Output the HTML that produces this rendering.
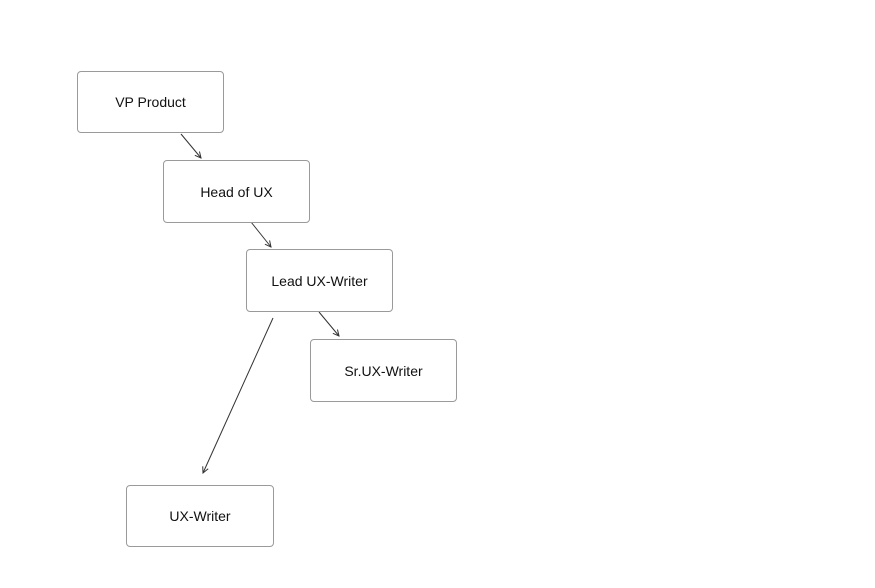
<!DOCTYPE html>
<html><head><style>
body{margin:0;width:875px;height:588px;background:#fff;position:relative;overflow:hidden;font-family:"Liberation Sans",sans-serif}
.b{position:absolute;width:145px;height:60px;border:1px solid #9a9a9a;border-radius:4px;box-sizing:border-box;display:flex;align-items:center;justify-content:center;font-size:14px;color:#111;background:#fff}
svg{position:absolute;left:0;top:0}
</style></head><body>
<svg width="875" height="588">
<defs><marker id="a" markerWidth="8" markerHeight="8" refX="7" refY="4" orient="auto" markerUnits="userSpaceOnUse"><path d="M1,1 L7,4 L1,7" fill="none" stroke="#333" stroke-width="1"/></marker></defs>
<g stroke="#333" stroke-width="1" marker-end="url(#a)">
<line x1="181" y1="134" x2="201" y2="158"/>
<line x1="251" y1="222" x2="271" y2="247"/>
<line x1="319" y1="312" x2="339" y2="336"/>
<line x1="273" y1="318" x2="203" y2="473"/>
</g></svg>
<div class="b" style="left:77px;top:71px;width:147px;height:62px">VP Product</div>
<div class="b" style="left:163px;top:160px;width:147px;height:63px">Head of UX</div>
<div class="b" style="left:246px;top:249px;width:147px;height:63px">Lead UX-Writer</div>
<div class="b" style="left:310px;top:339px;width:147px;height:63px">Sr.UX-Writer</div>
<div class="b" style="left:126px;top:485px;width:148px;height:62px">UX-Writer</div>
</body></html>
